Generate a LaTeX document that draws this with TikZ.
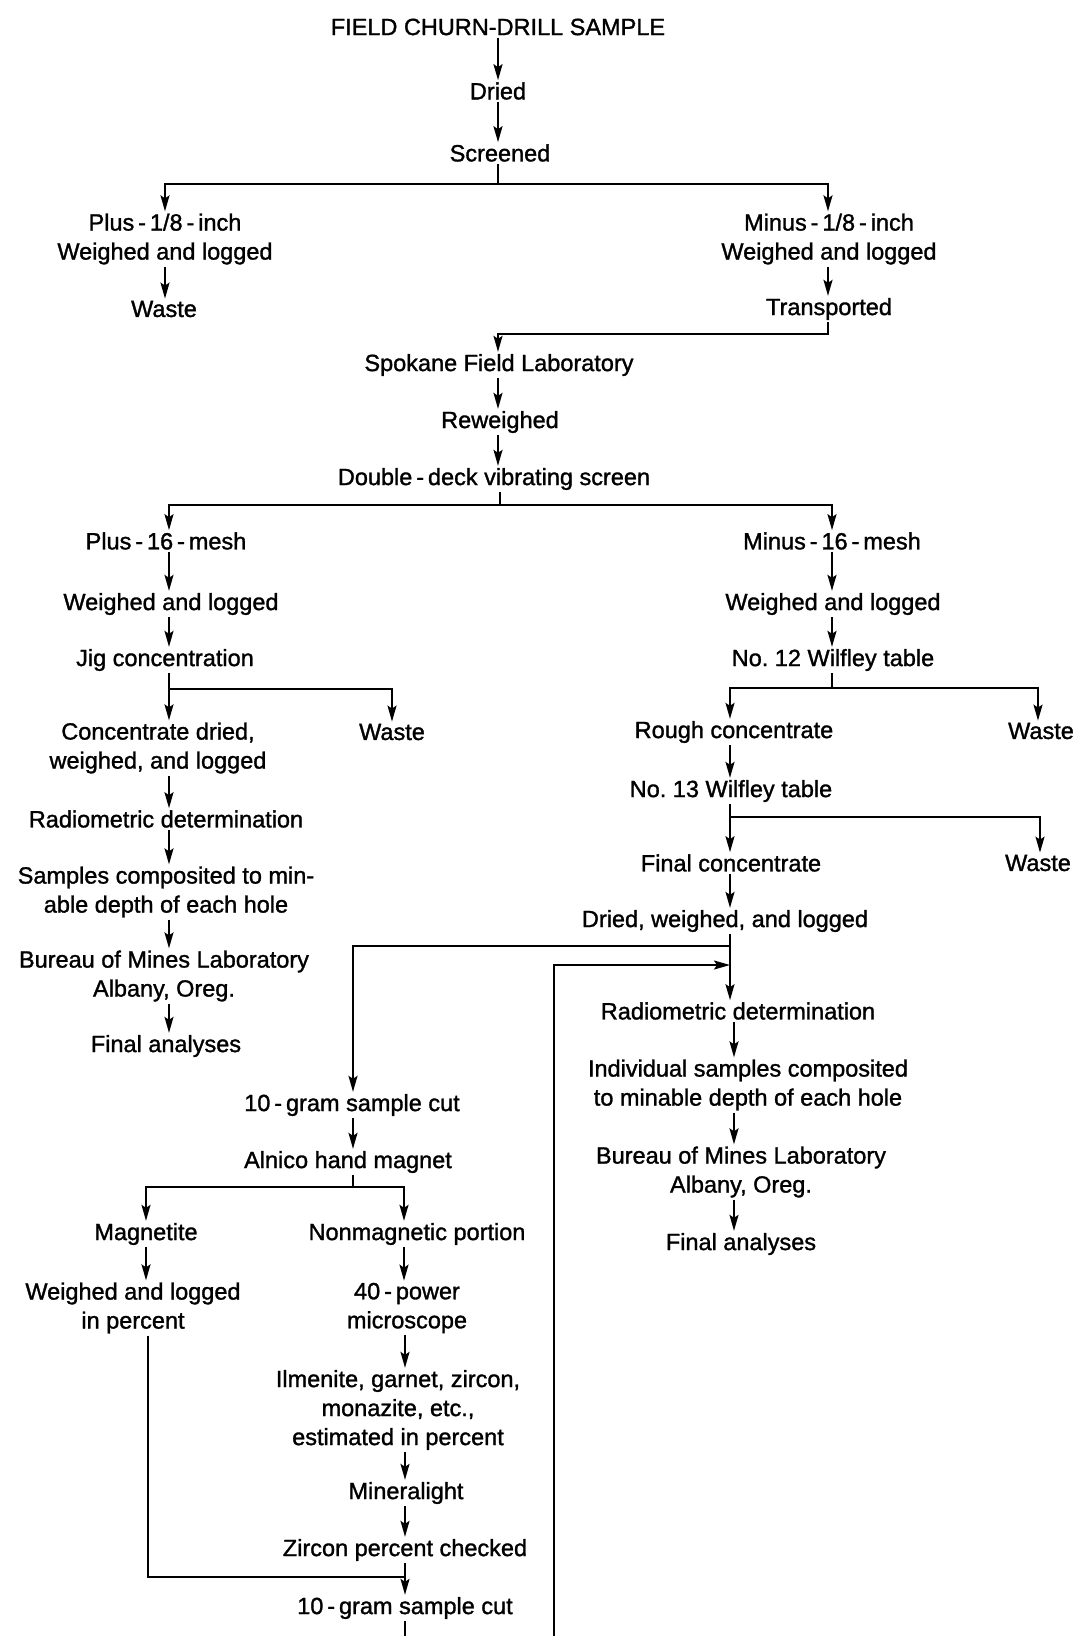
\documentclass[tikz,border=0pt]{standalone}
\usepackage{fontspec}
\setmainfont[FakeBold=1.3]{Liberation Sans}
\usetikzlibrary{arrows.meta}
\begin{document}
\frenchspacing
\begin{tikzpicture}[x=1pt,y=-1pt,
  lbl/.style={inner sep=2pt, align=center, font=\fontsize{23.5pt}{29pt}\selectfont},
  ln/.style={line width=1.9pt},
  arr/.style={line width=1.9pt, -{Stealth[length=16pt,width=9pt,inset=3pt]}}]
\fill[white] (0,0) rectangle (1076,1636);
\useasboundingbox (0,0) rectangle (1076,1636);
% texts
\node[lbl] (top) at (498,27) {FIELD CHURN-DRILL SAMPLE};
\node[lbl] (dried) at (498,91) {Dried};
\node[lbl] (scr) at (500,153) {Screened};
\node[lbl] (p18) at (165,239) {Plus\,-\,1/8\,-\,inch\\Weighed and logged};
\node[lbl] (w1) at (164,309) {Waste};
\node[lbl] (m18) at (829,239) {Minus\,-\,1/8\,-\,inch\\Weighed and logged};
\node[lbl] (tr) at (829,309) {Transported};
\node[lbl] (spo) at (499,365) {Spokane Field Laboratory};
\node[lbl] (rew) at (500,422) {Reweighed};
\node[lbl] (dd) at (494,479) {Double\,-\,deck vibrating screen};
\node[lbl] (p16) at (166,541) {Plus\,-\,16\,-\,mesh};
\node[lbl] (m16) at (832,541) {Minus\,-\,16\,-\,mesh};
\node[lbl] (wlL) at (171,604) {Weighed and logged};
\node[lbl] (wlR) at (833,604) {Weighed and logged};
\node[lbl] (jig) at (165,660) {Jig concentration};
\node[lbl] (n12) at (833,660) {No. 12 Wilfley table};
\node[lbl] (cd) at (158,748) {Concentrate dried,\\weighed, and logged};
\node[lbl] (w2) at (392,732) {Waste};
\node[lbl] (rc) at (734,732) {Rough concentrate};
\node[lbl] (w3) at (1041,731) {Waste};
\node[lbl] (rdL) at (166,819) {Radiometric determination};
\node[lbl] (sc) at (166,892) {Samples composited to min-\\able depth of each hole};
\node[lbl] (buL) at (164,976) {Bureau of Mines Laboratory\\Albany, Oreg.};
\node[lbl] (faL) at (166,1046) {Final analyses};
\node[lbl] (n13) at (731,791) {No. 13 Wilfley table};
\node[lbl] (fc) at (731,863) {Final concentrate};
\node[lbl] (w4) at (1038,863) {Waste};
\node[lbl] (dw) at (725,921) {Dried, weighed, and logged};
\node[lbl] (rdR) at (738,1011) {Radiometric determination};
\node[lbl] (ind) at (748,1085) {Individual samples composited\\to minable depth of each hole};
\node[lbl] (buR) at (741,1172) {Bureau of Mines Laboratory\\Albany, Oreg.};
\node[lbl] (faR) at (741,1244) {Final analyses};
\node[lbl] (cutA) at (352,1105) {10\,-\,gram sample cut};
\node[lbl] (aln) at (348,1162) {Alnico hand magnet};
\node[lbl] (mag) at (146,1234) {Magnetite};
\node[lbl] (non) at (417,1234) {Nonmagnetic portion};
\node[lbl] (wlp) at (133,1308) {Weighed and logged\\in percent};
\node[lbl] (pow) at (407,1308) {40\,-\,power\\microscope};
\node[lbl] (ilm) at (398,1410) {Ilmenite, garnet, zircon,\\monazite, etc.,\\estimated in percent};
\node[lbl] (min) at (406,1493) {Mineralight};
\node[lbl] (zir) at (405,1550) {Zircon percent checked};
\node[lbl] (cutB) at (405,1608) {10\,-\,gram sample cut};
% column x positions
\coordinate (xT) at (498,0);
\coordinate (xL1) at (165,0);
\coordinate (xR1) at (828,0);
\coordinate (xL2) at (169,0);
\coordinate (xR2) at (832,0);
\coordinate (xR3) at (730,0);
\coordinate (xR4) at (734,0);
\coordinate (xW3) at (1038,0);
\coordinate (xW4) at (1040,0);
\coordinate (xC) at (353,0);
\coordinate (xMg) at (146,0);
\coordinate (xNm) at (404,0);
\coordinate (xB) at (405,0);
\coordinate (xLp) at (148,0);
% branch points
\coordinate (bS) at (498,184);
\coordinate (bT) at (828,334);
\coordinate (bD) at (500,505);
\coordinate (bJ) at (169,689);
\coordinate (bN12) at (832,688);
\coordinate (bN13) at (730,817);
\coordinate (bDW) at (730,946);
\coordinate (bR) at (554,965);
\coordinate (bA) at (353,1187);
\coordinate (bL) at (148,1577);
\coordinate (botL) at (554,1636);
\coordinate (botB) at (405,1636);
% connectors
\draw[arr] (top.south -| xT) -- (dried.north -| xT);
\draw[arr] (dried.south -| xT) -- (scr.north -| xT);
\draw[ln] (scr.south -| xT) -- (bS);
\draw[arr] (bS) -| (p18.north -| xL1);
\draw[arr] (bS) -| (m18.north -| xR1);
\draw[arr] (p18.south -| xL1) -- (w1.north -| xL1);
\draw[arr] (m18.south -| xR1) -- (tr.north -| xR1);
\draw[arr] (tr.south -| xR1) -- (bT) -| (spo.north -| xT);
\draw[arr] (spo.south -| xT) -- (rew.north -| xT);
\draw[arr] (rew.south -| xT) -- (dd.north -| xT);
\draw[ln] (dd.south -| bD) -- (bD);
\draw[arr] (bD) -| (p16.north -| xL2);
\draw[arr] (bD) -| (m16.north -| xR2);
\draw[arr] (p16.south -| xL2) -- (wlL.north -| xL2);
\draw[arr] (wlL.south -| xL2) -- (jig.north -| xL2);
\draw[arr] (m16.south -| xR2) -- (wlR.north -| xR2);
\draw[arr] (wlR.south -| xR2) -- (n12.north -| xR2);
\draw[arr] (jig.south -| xL2) -- (cd.north -| xL2);
\draw[arr] (bJ) -| (w2.north);
\draw[ln] (n12.south -| xR2) -- (bN12);
\draw[arr] (bN12) -| (rc.north -| xR3);
\draw[arr] (bN12) -| (w3.north -| xW3);
\draw[arr] (cd.south -| xL2) -- (rdL.north -| xL2);
\draw[arr] (rdL.south -| xL2) -- (sc.north -| xL2);
\draw[arr] (sc.south -| xL2) -- (buL.north -| xL2);
\draw[arr] (buL.south -| xL2) -- (faL.north -| xL2);
\draw[arr] (rc.south -| xR3) -- (n13.north -| xR3);
\draw[arr] (n13.south -| xR3) -- (fc.north -| xR3);
\draw[arr] (bN13) -| (w4.north -| xW4);
\draw[arr] (fc.south -| xR3) -- (dw.north -| xR3);
\draw[arr] (dw.south -| xR3) -- (rdR.north -| xR3);
\draw[arr] (bDW) -| (cutA.north -| xC);
\draw[arr] (botL) -- (bR) -- (bR -| xR3);
\draw[arr] (rdR.south -| xR4) -- (ind.north -| xR4);
\draw[arr] (ind.south -| xR4) -- (buR.north -| xR4);
\draw[arr] (buR.south -| xR4) -- (faR.north -| xR4);
\draw[arr] (cutA.south -| xC) -- (aln.north -| xC);
\draw[ln] (aln.south -| xC) -- (bA);
\draw[arr] (bA) -| (mag.north -| xMg);
\draw[arr] (bA) -| (non.north -| xNm);
\draw[arr] (mag.south -| xMg) -- (wlp.north -| xMg);
\draw[arr] (non.south -| xNm) -- (pow.north -| xNm);
\draw[arr] (pow.south -| xB) -- (ilm.north -| xB);
\draw[arr] (ilm.south -| xB) -- (min.north -| xB);
\draw[arr] (min.south -| xB) -- (zir.north -| xB);
\draw[arr] (zir.south -| xB) -- (cutB.north -| xB);
\draw[ln] (wlp.south -| xLp) -- (bL) -- (bL -| xB);
\draw[ln] (cutB.south -| xB) -- (botB);
\end{tikzpicture}
\end{document}
